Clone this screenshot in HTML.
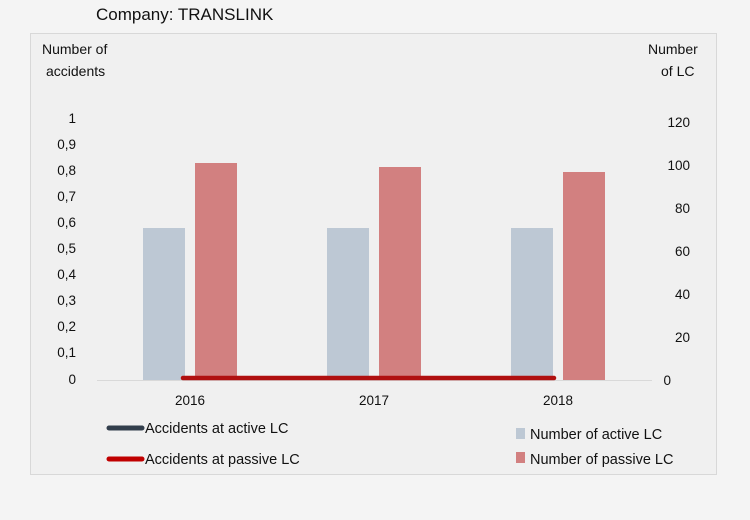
<!DOCTYPE html>
<html><head><meta charset="utf-8"><style>
html,body{margin:0;padding:0;background:#f4f4f4;}
svg{display:block;font-family:"Liberation Sans",sans-serif;}
</style></head><body>
<svg width="750" height="520" xmlns="http://www.w3.org/2000/svg">
<rect width="750" height="520" fill="#f4f4f4"/>
<text x="96" y="20" font-size="17" fill="#111">Company: TRANSLINK</text>
<rect x="30.5" y="33.5" width="686" height="441" fill="#f0f0f0" stroke="#d8d8d8"/>
<g font-size="14" fill="#111">
<text x="42" y="54">Number of</text>
<text x="46" y="76">accidents</text>
<text x="648" y="54">Number</text>
<text x="661" y="76">of LC</text>
</g>
<g font-size="13.5" fill="#111" text-anchor="end">
<text x="76" y="123">1</text>
<text x="76" y="149">0,9</text>
<text x="76" y="175">0,8</text>
<text x="76" y="201">0,7</text>
<text x="76" y="227">0,6</text>
<text x="76" y="253">0,5</text>
<text x="76" y="279">0,4</text>
<text x="76" y="305">0,3</text>
<text x="76" y="331">0,2</text>
<text x="76" y="357">0,1</text>
<text x="76" y="384">0</text>
</g>
<g font-size="13.5" fill="#111" text-anchor="end">
<text x="690" y="127">120</text>
<text x="690" y="170">100</text>
<text x="690" y="213">80</text>
<text x="690" y="256">60</text>
<text x="690" y="299">40</text>
<text x="690" y="342">20</text>
<text x="671" y="385">0</text>
</g>
<line x1="97" y1="380.5" x2="652" y2="380.5" stroke="#d9d9d9"/>
<g fill="#bdc8d4">
<rect x="143" y="228" width="42" height="152"/>
<rect x="327" y="228" width="42" height="152"/>
<rect x="511" y="228" width="42" height="152"/>
</g>
<g fill="#d28080">
<rect x="195" y="163" width="42" height="217"/>
<rect x="379" y="167" width="42" height="213"/>
<rect x="563" y="172" width="42" height="208"/>
</g>
<line x1="183" y1="378" x2="554" y2="378" stroke="#b01010" stroke-width="4.5" stroke-linecap="round"/>
<g font-size="13.5" fill="#111" text-anchor="middle">
<text x="190" y="405">2016</text>
<text x="374" y="405">2017</text>
<text x="558" y="405">2018</text>
</g>
<line x1="109" y1="428" x2="142" y2="428" stroke="#323e4c" stroke-width="5" stroke-linecap="round"/>
<line x1="109" y1="459" x2="142" y2="459" stroke="#c00000" stroke-width="5" stroke-linecap="round"/>
<g font-size="14.5" fill="#111">
<text x="145" y="433">Accidents at active LC</text>
<text x="145" y="464">Accidents at passive LC</text>
<text x="530" y="439">Number of active LC</text>
<text x="530" y="464">Number of passive LC</text>
</g>
<rect x="516" y="428" width="9" height="11" fill="#bdc8d4"/>
<rect x="516" y="452" width="9" height="11" fill="#d28080"/>
</svg>
</body></html>
